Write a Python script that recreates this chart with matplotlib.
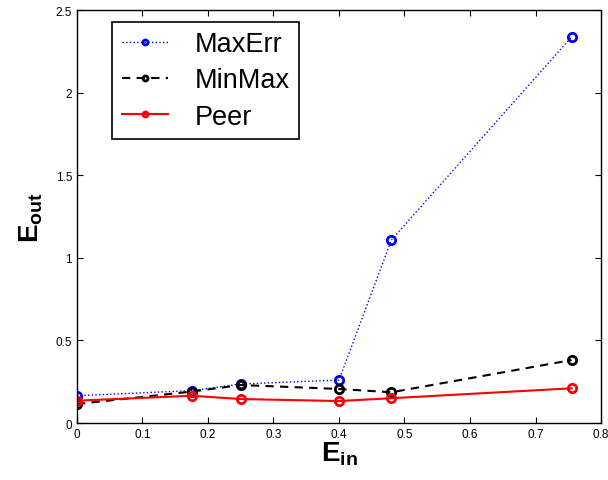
import matplotlib
matplotlib.use("Agg")
import matplotlib.pyplot as plt

plt.rcParams['font.family'] = ['Liberation Sans', 'DejaVu Sans']
plt.rcParams['mathtext.fontset'] = 'custom'
plt.rcParams['mathtext.rm'] = 'Liberation Sans'
plt.rcParams['mathtext.bf'] = 'Liberation Sans:bold'

# data
e_in = [0, 0.175, 0.25, 0.40, 0.48, 0.755]
maxerr = [0.165, 0.196, 0.236, 0.26, 1.108, 2.337]
minmax = [0.115, 0.19, 0.23, 0.206, 0.186, 0.381]
peer = [0.135, 0.165, 0.145, 0.133, 0.15, 0.21]

fig = plt.figure(figsize=(6.08, 4.81), dpi=100)
ax = fig.add_axes([0.1266, 0.1185, 0.8619, 0.8585])

ax.plot(e_in, maxerr, color='blue', linestyle=':', linewidth=1, marker='o',
        markersize=6, markerfacecolor='none', markeredgewidth=2, label='MaxErr')
ax.plot(e_in, minmax, color='black', linestyle='--', linewidth=1.5, dashes=(4, 3),
        marker='o', markersize=6, markerfacecolor='none', markeredgewidth=2, label='MinMax')
ax.plot(e_in, peer, color='red', linestyle='-', linewidth=1.5, marker='o',
        markersize=6, markerfacecolor='none', markeredgewidth=2, label='Peer')

ax.set_xlim(0, 0.8)
ax.set_ylim(0, 2.5)
ax.set_xticks([0, 0.1, 0.2, 0.3, 0.4, 0.5, 0.6, 0.7, 0.8])
ax.set_xticklabels(['0', '0.1', '0.2', '0.3', '0.4', '0.5', '0.6', '0.7', '0.8'])
ax.set_yticks([0, 0.5, 1, 1.5, 2, 2.5])
ax.set_yticklabels(['0', '0.5', '1', '1.5', '2', '2.5'])
ax.tick_params(direction='in', top=True, right=True, labelsize=8.5, length=4, width=0.8)
for s in ax.spines.values():
    s.set_linewidth(1)

ax.set_xlabel(r'$\mathbf{E_{in}}$', fontsize=20, labelpad=0)
ax.set_ylabel(r'$\mathbf{E_{out}}$', fontsize=20, labelpad=8)

leg = ax.legend(loc='upper left', bbox_to_anchor=(0.067, 0.972), fontsize=19.5,
                fancybox=False, edgecolor='black', framealpha=1,
                markerscale=0.6, handlelength=1.7, borderpad=0.35, labelspacing=0.38,
                handletextpad=1.0, borderaxespad=0)
leg.get_frame().set_linewidth(1.2)

fig.savefig('out.png', dpi=100)
